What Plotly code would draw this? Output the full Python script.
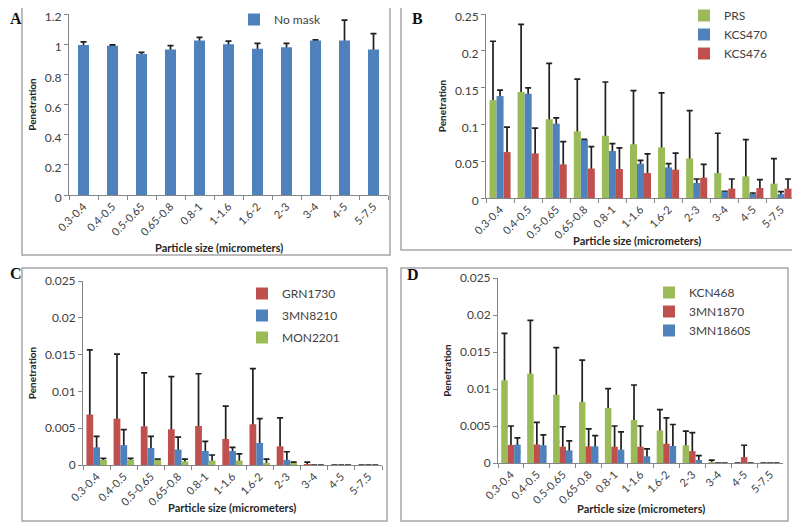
import plotly.graph_objects as go

categories = ["0.3-0.4", "0.4-0.5", "0.5-0.65", "0.65-0.8", "0.8-1", "1-1.6",
              "1.6-2", "2-3", "3-4", "4-5", "5-7.5"]

# Panel A
nomask = [0.995, 0.99, 0.935, 0.965, 1.025, 1.0, 0.97, 0.98, 1.025, 1.025, 0.965]
nomask_err = [0.02, 0.005, 0.01, 0.025, 0.02, 0.02, 0.035, 0.025, 0.003, 0.135, 0.105]

# Panel B
prs = [0.133, 0.144, 0.107, 0.0905, 0.0846, 0.073, 0.0688, 0.0538, 0.034, 0.0294, 0.0195]
prs_err = [0.080, 0.092, 0.076, 0.071, 0.073, 0.073, 0.074, 0.065, 0.054, 0.050, 0.034]
kcs470 = [0.1385, 0.1416, 0.101, 0.0787, 0.0638, 0.0466, 0.0416, 0.0204, 0.0086, 0.0054, 0.0054]
kcs470_err = [0.008, 0.008, 0.008, 0.001, 0.010, 0.0045, 0.005, 0.0054, 0.0005, 0.0014, 0.0032]
kcs476 = [0.0624, 0.0606, 0.0457, 0.040, 0.0394, 0.034, 0.0385, 0.0276, 0.0127, 0.0136, 0.0127]
kcs476_err = [0.034, 0.0344, 0.0308, 0.0297, 0.0286, 0.026, 0.0225, 0.0181, 0.0131, 0.0113, 0.0131]

# Panel C
grn1730 = [0.00685, 0.0063, 0.00526, 0.00485, 0.0053, 0.00354, 0.00553, 0.00254, 0.00005, 0, 0]
grn1730_err = [0.0088, 0.00876, 0.00726, 0.00717, 0.0071, 0.00446, 0.00757, 0.00386, 0.00035, 0, 0]
mn8210 = [0.0024, 0.0027, 0.0023, 0.0021, 0.0019, 0.0019, 0.003, 0.0007, 0, 0, 0]
mn8210_err = [0.0015, 0.0021, 0.0016, 0.0017, 0.0013, 0.0005, 0.0033, 0.0011, 0, 0, 0]
mon2201 = [0.00068, 0.0007, 0.0007, 0.0005, 0.0006, 0.0006, 0.0003, 0.0002, 0, 0, 0]
mon2201_err = [0.00022, 0.0002, 0.0001, 0.0003, 0.00076, 0.0009, 0.0005, 0.0002, 0, 0, 0]

# Panel D
kcn468 = [0.01117, 0.01207, 0.00923, 0.00824, 0.00743, 0.0058, 0.0044, 0.0024, 0.0001, 0, 0]
kcn468_err = [0.00635, 0.00721, 0.00636, 0.00566, 0.00262, 0.00474, 0.0028, 0.0019, 0.0003, 0, 0]
mn1870 = [0.00243, 0.0025, 0.0022, 0.00225, 0.0022, 0.0022, 0.0026, 0.0016, 0, 0.0008, 0]
mn1870_err = [0.00257, 0.003, 0.0027, 0.00235, 0.0028, 0.0028, 0.0035, 0.0025, 0, 0.0016, 0]
mn1860s = [0.00248, 0.0024, 0.0017, 0.00225, 0.0018, 0.0009, 0.0023, 0.0004, 0, 0, 0]
mn1860s_err = [0.00092, 0.0014, 0.0013, 0.00145, 0.0024, 0.001, 0.0029, 0.0006, 0, 0, 0]

BLUE = "#4F81BD"
RED = "#C0504D"
GREEN = "#9BBB59"
ERR = "#1F1F1F"
FONT = "Lato"
TXT = "#404040"

W, H = 800, 525
OFF = 8  # the page places the figure 8px from the top-left corner


def fx(px):
    return (px - OFF) / W


def fy(py):
    return 1 - (py - OFF) / H


fig = go.Figure()


def add_bar(name, vals, errs, color, n, legend, group, width=None):
    xa = "x" + ("" if n == 1 else str(n))
    ya = "y" + ("" if n == 1 else str(n))
    og = "p%d_%d" % (n, group)
    # error bars carried by an invisible twin drawn underneath the real bar,
    # so that only the upper half of each error bar shows
    fig.add_trace(go.Bar(
        x=categories, y=vals, marker_color="rgba(0,0,0,0)", marker_line_width=0,
        error_y=dict(type="data", array=errs, symmetric=True, color=ERR,
                     thickness=1.7, width=3),
        xaxis=xa, yaxis=ya, offsetgroup=og, showlegend=False, hoverinfo="skip",
        width=width, legend=legend, legendgroup=og,
    ))
    fig.add_trace(go.Bar(
        x=categories, y=vals, name=name, marker_color=color, marker_line_width=0,
        xaxis=xa, yaxis=ya, offsetgroup=og, legend=legend, showlegend=True,
        width=width, legendgroup=og,
    ))


add_bar("No mask", nomask, nomask_err, BLUE, 1, "legend", 1, width=0.38)
add_bar("PRS", prs, prs_err, GREEN, 2, "legend2", 1)
add_bar("KCS470", kcs470, kcs470_err, BLUE, 2, "legend2", 2)
add_bar("KCS476", kcs476, kcs476_err, RED, 2, "legend2", 3)
add_bar("GRN1730", grn1730, grn1730_err, RED, 3, "legend3", 1)
add_bar("3MN8210", mn8210, mn8210_err, BLUE, 3, "legend3", 2)
add_bar("MON2201", mon2201, mon2201_err, GREEN, 3, "legend3", 3)
add_bar("KCN468", kcn468, kcn468_err, GREEN, 4, "legend4", 1)
add_bar("3MN1870", mn1870, mn1870_err, RED, 4, "legend4", 2)
add_bar("3MN1860S", mn1860s, mn1860s_err, BLUE, 4, "legend4", 3)

# plot-area pixel boxes on the page: (x0, x1, ytop, ybottom)
boxes = {
    1: (69, 388, 14, 195),
    2: (486, 795, 14, 198),
    3: (83, 382, 281, 465),
    4: (498, 783, 278, 463),
}
yranges = {1: [0, 1.2], 2: [0, 0.25], 3: [0, 0.025], 4: [0, 0.025]}
ydticks = {1: 0.2, 2: 0.05, 3: 0.005, 4: 0.005}
label_shift = {1: 3, 2: 3, 3: 0, 4: 0}

axis_common_x = dict(
    type="category", showgrid=False, showline=True, linecolor="#868686",
    linewidth=1, ticks="outside", tickson="boundaries", ticklen=4,
    tickcolor="#868686", tickangle=-45, automargin=False,
    tickfont=dict(family=FONT, size=11, color=TXT),
    zeroline=False, fixedrange=True,
)
axis_common_y = dict(
    showgrid=False, showline=True, linecolor="#868686", linewidth=1,
    ticks="outside", ticklen=4, tickcolor="#868686", automargin=False,
    ticklabeloverflow="allow",
    tickfont=dict(family=FONT, size=12, color=TXT),
    title=dict(text="<b>Penetration</b>",
               font=dict(family=FONT, size=10, color="#262626"), standoff=6),
    zeroline=False, fixedrange=True,
)

layout = dict(
    width=W, height=H, margin=dict(l=0, r=0, t=0, b=0, autoexpand=False),
    paper_bgcolor="white", plot_bgcolor="white",
    barmode="group", showlegend=True, bargap=0.25,
    font=dict(family=FONT, color=TXT),
)

for n, (x0, x1, yt, yb) in boxes.items():
    suf = "" if n == 1 else str(n)
    xa = dict(axis_common_x)
    xa["domain"] = [fx(x0), fx(x1)]
    xa["anchor"] = "y" + suf
    ya = dict(axis_common_y)
    ya["domain"] = [fy(yb), fy(yt)]
    ya["anchor"] = "x" + suf
    ya["range"] = yranges[n]
    ya["dtick"] = ydticks[n]
    ya["tick0"] = 0
    ya["ticklabelshift"] = label_shift[n]
    layout["xaxis" + suf] = xa
    layout["yaxis" + suf] = ya

legend_common = dict(
    bgcolor="rgba(0,0,0,0)", borderwidth=0,
    font=dict(family=FONT, size=12, color=TXT),
    xanchor="left", yanchor="top", itemwidth=30,
    traceorder="grouped", tracegroupgap=0,
)
leg_pos = {
    "legend": (234, 5, 0),
    "legend2": (684, 1, 0),
    "legend3": (242, 279, 3),
    "legend4": (649, 278, 0),
}
for key, (px, py, gap) in leg_pos.items():
    lg = dict(legend_common)
    lg["x"] = fx(px)
    lg["y"] = fy(py)
    lg["tracegroupgap"] = gap
    layout[key] = lg

fig.update_layout(**layout)

# panel borders
for (x0, y0, x1, y1) in [(22, 1, 390, 255), (401, 1, 798, 250),
                         (22, 268, 387, 521), (401, 268, 788, 521)]:
    fig.add_shape(type="rect", xref="paper", yref="paper",
                  x0=fx(x0), x1=fx(x1), y0=fy(y1), y1=fy(y0),
                  line=dict(color="#A6A6A6", width=1.5), fillcolor="rgba(0,0,0,0)")

# panel letters
for letter, (px, py) in {"A": (8, 8), "B": (410, 8), "C": (8, 263), "D": (405, 264)}.items():
    fig.add_annotation(text="<b>" + letter + "</b>", xref="paper", yref="paper",
                       x=fx(px), y=fy(py), showarrow=False,
                       xanchor="left", yanchor="top",
                       font=dict(family="Liberation Serif", size=16, color="#111111"))

# x-axis titles
for (cx, cy) in [(219, 248), (637, 240), (232, 507), (641, 508)]:
    fig.add_annotation(text="<b>Particle size (micrometers)</b>", xref="paper", yref="paper",
                       x=fx(cx), y=fy(cy), showarrow=False,
                       xanchor="center", yanchor="middle",
                       font=dict(family=FONT, size=11, color="#262626"))

fig.write_html("out.html")
